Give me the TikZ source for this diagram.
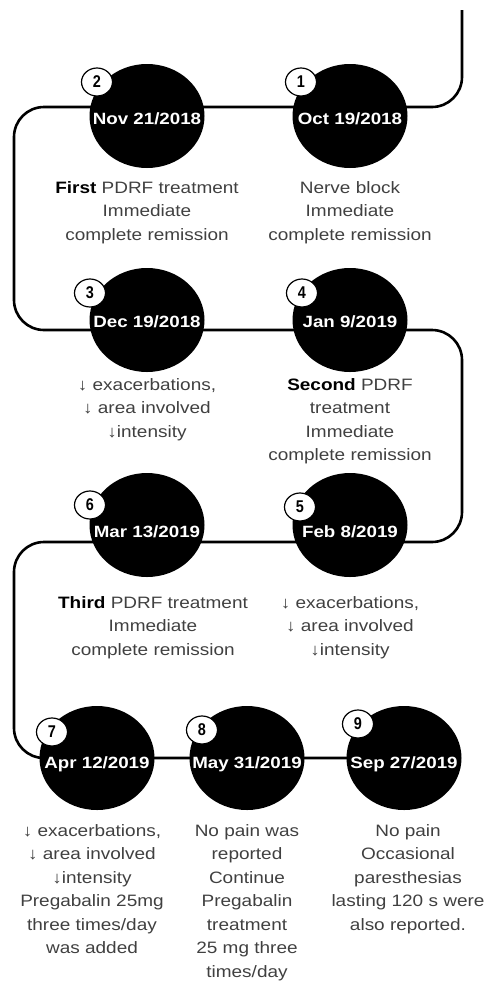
\documentclass[tikz,border=0pt]{standalone}
\usepackage{fontspec}
\setmainfont{Liberation Sans}[FakeStretch=1.15]
\newfontfamily\numfont{Liberation Sans}[FakeStretch=0.85]
\usetikzlibrary{positioning,backgrounds,shapes.geometric}
\newcommand{\dn}{{\bfseries ↓}}

\begin{document}
\begin{tikzpicture}[x=1pt, y=-1pt,
    event/.style={ellipse, fill=black, minimum width=115pt, minimum height=104pt,
      inner xsep=-25pt, inner ysep=-5pt, text=white, text depth=0pt, text height=14pt,
      font=\bfseries\fontsize{16.3}{18}\selectfont},
    low/.style={text height=#1},
    badge/.style={ellipse, draw, fill=white, line width=1.2pt, minimum width=31pt,
      minimum height=28pt, inner sep=0pt, font=\numfont\bfseries\fontsize{17}{18}\selectfont},
    desc/.style={align=center, inner sep=0pt, text=black!75,
      font=\fontsize{16.5}{23.5}\selectfont},
    track/.style={line width=2.6pt, rounded corners=30pt}]
    \useasboundingbox (0,0) rectangle (485,986);
    \node [event, low=16pt] (c1) at (350,116) {Oct 19/2018};
    \node [event, low=16pt] (c2) at (147,116) {Nov 21/2018};
    \node [event] (c3) at (147,320) {Dec 19/2018};
    \node [event] (c4) at (350,320) {Jan 9/2019};
    \node [event, low=24pt] (c5) at (350,525) {Feb 8/2019};
    \node [event, low=24pt] (c6) at (147,525) {Mar 13/2019};
    \node [event, low=20pt] (c7) at (97,758)  {Apr 12/2019};
    \node [event, low=20pt] (c8) at (247,758) {May 31/2019};
    \node [event, low=20pt] (c9) at (404,758) {Sep 27/2019};
    \node [badge] (n1) at (301,82)  {1};
    \node [badge] (n2) at (97,82)   {2};
    \node [badge] (n3) at (90,293)  {3};
    \node [badge] (n4) at (302,293) {4};
    \node [badge] (n5) at (300,507) {5};
    \node [badge] (n6) at (90,505)  {6};
    \node [badge] (n7) at (52,732)  {7};
    \node [badge] (n8) at (202,730) {8};
    \node [badge] (n9) at (358,724) {9};
    \coordinate (top) at (462,10);
    \coordinate (r1) at (0,107);
    \coordinate (r2) at (0,330);
    \coordinate (r3) at (0,542);
    \coordinate (r4) at (0,758);
    \coordinate (lft1) at (14,200);
    \coordinate (rgt1) at (462,430);
    \coordinate (lft2) at (14,650);
    \begin{scope}[on background layer]
      \draw [track] (top) |- (c1 |- r1) -- (c2 |- r1) -| (lft1) |- (c3 |- r2)
        -- (c4 |- r2) -| (rgt1) |- (c5 |- r3) -- (c6 |- r3) -| (lft2) |- (c7 |- r4)
        -- (c8 |- r4) -- (c9 |- r4);
    \end{scope}
    \node [desc, below=13pt of c1] (d1) {Nerve block\\Immediate\\complete remission};
    \node [desc, below=13pt of c2] (d2) {{\color{black}\bfseries First} PDRF treatment\\Immediate\\complete remission};
    \node [desc, below=6pt of c3] (d3) {\dn{} exacerbations,\\\dn{} area involved\\\dn intensity};
    \node [desc, below=6pt of c4] (d4) {{\color{black}\bfseries Second} PDRF\\treatment\\Immediate\\complete remission};
    \node [desc, below=19pt of c5] (d5) {\dn{} exacerbations,\\\dn{} area involved\\\dn intensity};
    \node [desc, below=19pt of c6, xshift=6pt] (d6) {{\color{black}\bfseries Third} PDRF treatment\\Immediate\\complete remission};
    \node [desc, below=14pt of c7, xshift=-5pt] (d7) {\dn{} exacerbations,\\\dn{} area involved\\\dn intensity\\Pregabalin 25mg\\three times/day\\was added};
    \node [desc, below=14pt of c8] (d8) {No pain was\\reported\\Continue\\Pregabalin\\treatment\\25 mg three\\times/day};
    \node [desc, below=14pt of c9, xshift=4pt] (d9) {No pain\\Occasional\\paresthesias\\lasting 120 s were\\also reported.};
\end{tikzpicture}
\end{document}
